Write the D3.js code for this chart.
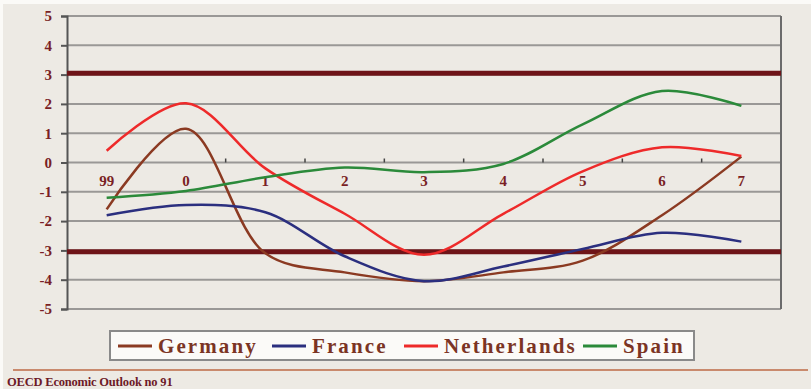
<!DOCTYPE html>
<html>
<head>
<meta charset="utf-8">
<script src="https://cdn.jsdelivr.net/npm/d3@7"></script>
<style>
  body { margin: 0; background: #ffffff; }
  svg { display: block; }
</style>
</head>
<body>
<div id="chart"></div>
<script>
let w = 811;
let h = 389;

// data
const years = ["99", "0", "1", "2", "3", "4", "5", "6", "7"];
const germany = [-1.6, 1.15, -3.1, -3.75, -4.05, -3.75, -3.35, -1.8, 0.2];
const france = [-1.8, -1.45, -1.7, -3.2, -4.05, -3.55, -2.95, -2.4, -2.7];
const netherlands = [0.4, 2.02, -0.2, -1.75, -3.15, -1.75, -0.3, 0.52, 0.22];
const spain = [-1.2, -0.97, -0.5, -0.17, -0.33, -0.05, 1.3, 2.44, 1.93];
const yTicks = [5, 4, 3, 2, 1, 0, -1, -2, -3, -4, -5];
const limits = [3.05, -3.05];

const series = [
  {name: "Germany", values: germany, color: "#8b3a22"},
  {name: "France", values: france, color: "#2b2f7f"},
  {name: "Netherlands", values: netherlands, color: "#ee2a2a"},
  {name: "Spain", values: spain, color: "#2b8a3a"}
];

let plot = {left: 67, right: 781, top: 16, bottom: 309};

let svg = d3.select("#chart").append("svg")
  .attr("width", w)
  .attr("height", h);

// background
svg.append("rect").attr("x", 0).attr("y", 0).attr("width", w).attr("height", h).attr("fill", "#fbfaf7");
svg.append("rect").attr("x", 3).attr("y", 4).attr("width", w - 3).attr("height", h - 4).attr("fill", "#edeae4");

let x = d3.scaleBand().domain(years).range([plot.left, plot.right]);
let y = d3.scaleLinear().domain([-5, 5]).range([plot.bottom, plot.top]);

// gridlines
svg.append("g").selectAll("line").data(yTicks).enter().append("line")
  .attr("x1", plot.left).attr("x2", plot.right)
  .attr("y1", d => y(d)).attr("y2", d => y(d))
  .attr("stroke", "#9a9896")
  .attr("stroke-width", 2);

// plot frame right
svg.append("line")
  .attr("x1", plot.right).attr("x2", plot.right)
  .attr("y1", plot.top).attr("y2", plot.bottom)
  .attr("stroke", "#6b6b6b").attr("stroke-width", 2);

// y axis
let yAxis = svg.append("g")
  .attr("transform", `translate(${plot.left},0)`)
  .call(d3.axisLeft(y).tickValues(yTicks).tickSize(6).tickFormat(d => String(d)));
yAxis.select(".domain").attr("stroke", "#555").attr("stroke-width", 2);
yAxis.selectAll(".tick line").attr("stroke", "#555").attr("stroke-width", 2);
yAxis.selectAll("text")
  .attr("x", -15)
  .attr("fill", "#7a1f24")
  .attr("font-family", "Liberation Serif")
  .attr("font-weight", "bold")
  .attr("font-size", 15);

// x axis along zero
let xAxis = svg.append("g")
  .attr("transform", `translate(0,${y(0)})`)
  .call(d3.axisBottom(x).tickSize(0).tickPadding(13));
xAxis.select(".domain").remove();
xAxis.selectAll("text")
  .attr("fill", "#7a1f24")
  .attr("font-family", "Liberation Serif")
  .attr("font-weight", "bold")
  .attr("font-size", 15);

// small tick marks between categories
svg.append("g").selectAll("line").data(years.slice(1, -1)).enter().append("line")
  .attr("x1", d => x(d) + x.bandwidth())
  .attr("x2", d => x(d) + x.bandwidth())
  .attr("y1", y(0) - 4).attr("y2", y(0))
  .attr("stroke", "#444").attr("stroke-width", 1.5);

// thick limit lines at +/-3
svg.append("g").selectAll("line").data(limits).enter().append("line")
  .attr("x1", plot.left).attr("x2", plot.right)
  .attr("y1", d => y(d)).attr("y2", d => y(d))
  .attr("stroke", "#6e1418")
  .attr("stroke-width", 5);

let line = d3.line()
  .x((d, i) => x(years[i]) + x.bandwidth() / 2)
  .y(d => y(d))
  .curve(d3.curveCatmullRom.alpha(0.5));

svg.append("g").selectAll("path").data(series).enter().append("path")
  .attr("d", d => line(d.values))
  .attr("fill", "none")
  .attr("stroke", d => d.color)
  .attr("stroke-width", 2.5);

// legend
let legend = svg.append("g");
legend.append("rect")
  .attr("x", 110).attr("y", 331).attr("width", 584).attr("height", 29)
  .attr("fill", "#fbfaf8").attr("stroke", "#8a8a8a").attr("stroke-width", 2);

let legendPos = [118, 272, 404, 583];
let items = legend.selectAll(".item").data(series).enter().append("g")
  .attr("class", "item")
  .attr("transform", (d, i) => `translate(${legendPos[i]},346)`);
items.append("line")
  .attr("x1", 0).attr("x2", 34)
  .attr("stroke", d => d.color).attr("stroke-width", 3);
items.append("text")
  .text(d => d.name)
  .attr("x", 40).attr("y", 7)
  .attr("fill", "#7b3424")
  .attr("font-family", "Liberation Serif")
  .attr("font-weight", "bold")
  .attr("font-size", 21)
  .attr("letter-spacing", 2.1);

// footer
svg.append("line")
  .attr("x1", 13).attr("x2", 808)
  .attr("y1", 370).attr("y2", 370)
  .attr("stroke", "#c98a6d").attr("stroke-width", 2);
svg.append("text")
  .text("OECD Economic Outlook no 91")
  .attr("x", 7).attr("y", 386)
  .attr("fill", "#6e1a28")
  .attr("font-family", "Liberation Serif")
  .attr("font-weight", "bold")
  .attr("font-size", 12.5)
  .attr("letter-spacing", -0.2);
</script>
</body>
</html>
